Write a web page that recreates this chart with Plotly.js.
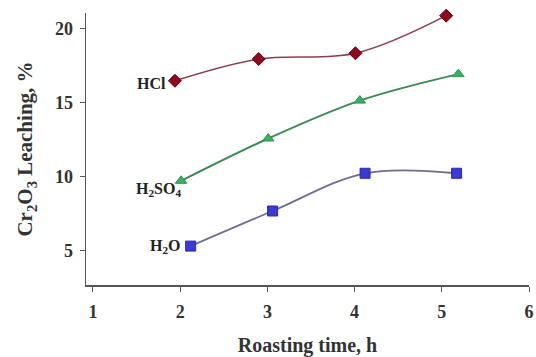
<!DOCTYPE html>
<html><head><meta charset="utf-8">
<script src="https://cdn.plot.ly/plotly-3.0.1.min.js"></script>
<style>html,body{margin:0;padding:0;background:#fff}#chart{width:536px;height:357px}</style>
</head><body><div id="chart"></div>
<script>
const hclX = [1.94, 2.9, 4.01, 5.05];
const hclY = [16.5, 17.97, 18.36, 20.9];
const h2so4X = [2.01, 3.01, 4.06, 5.19];
const h2so4Y = [9.74, 12.6, 15.16, 16.95];
const h2oX = [2.12, 3.06, 4.12, 5.17];
const h2oY = [5.33, 7.7, 10.25, 10.25];
const xTicks = [1, 2, 3, 4, 5, 6];
const yTicks = [5, 10, 15, 20];
const seriesLabels = ['HCl', 'H<sub>2</sub>SO<sub>4</sub>', 'H<sub>2</sub>O'];

const serif = 'Liberation Serif, Times New Roman, serif';
const traces = [
  {x: hclX, y: hclY, mode: 'lines+markers', cliponaxis: false, line: {shape: 'spline', smoothing: 1, color: '#8a3f4e', width: 1.6},
   marker: {symbol: 'diamond', size: 10, color: '#8b0a1e', line: {color: '#6a0010', width: 1}}},
  {x: h2so4X, y: h2so4Y, mode: 'lines+markers', cliponaxis: false, line: {shape: 'spline', smoothing: 1, color: '#3d8a55', width: 2},
   marker: {symbol: 'triangle-up', size: 10, color: '#3cb060', line: {color: '#2e9050', width: 1}}},
  {x: h2oX, y: h2oY, mode: 'lines+markers', cliponaxis: false, line: {shape: 'spline', smoothing: 1, color: '#6d6d94', width: 1.8},
   marker: {symbol: 'square', size: 10, color: '#3a3ad6', line: {color: '#2a2aa0', width: 1}}}
];

const annFont = {family: serif, size: 16, color: '#222', weight: 'bold'};
const annotations = [
  {x: hclX[0], y: hclY[0], text: seriesLabels[0], xanchor: 'right', yanchor: 'middle', xshift: -7, yshift: -3, showarrow: false, font: annFont},
  {x: h2so4X[0], y: h2so4Y[0], text: seriesLabels[1], xanchor: 'right', yanchor: 'middle', xshift: 2, yshift: -9, showarrow: false, font: annFont},
  {x: h2oX[0], y: h2oY[0], text: seriesLabels[2], xanchor: 'right', yanchor: 'middle', xshift: -8, yshift: 0, showarrow: false, font: annFont}
];

const tickFont = {family: serif, size: 18, color: '#333', weight: 'bold'};
const layout = {
  width: 536, height: 357,
  margin: {l: 86, r: 7, t: 13, b: 72},
  paper_bgcolor: '#fff', plot_bgcolor: '#fff',
  showlegend: false,
  xaxis: {range: [0.92, 6], tickvals: xTicks, showgrid: false, zeroline: false,
          showline: true, linecolor: '#555', linewidth: 1.5, ticks: 'outside', ticklen: 5, tickcolor: '#555',
          tickfont: tickFont, ticklabelstandoff: 5,
          title: {text: 'Roasting time, h', font: {family: serif, size: 20, color: '#333', weight: 'bold'}, standoff: 17}},
  yaxis: {range: [2.7, 21.08], tickvals: yTicks, showgrid: false, zeroline: false,
          showline: true, linecolor: '#555', linewidth: 1.5, ticks: 'outside', ticklen: 5, tickcolor: '#555',
          tickfont: tickFont, ticklabelstandoff: 3,
          title: {text: 'Cr<sub>2</sub>O<sub>3</sub> Leaching, %', font: {family: serif, size: 21, color: '#333', weight: 'bold'}, standoff: 16}},
  annotations: annotations
};
Plotly.newPlot('chart', traces, layout, {displayModeBar: false, staticPlot: true});
</script></body></html>
